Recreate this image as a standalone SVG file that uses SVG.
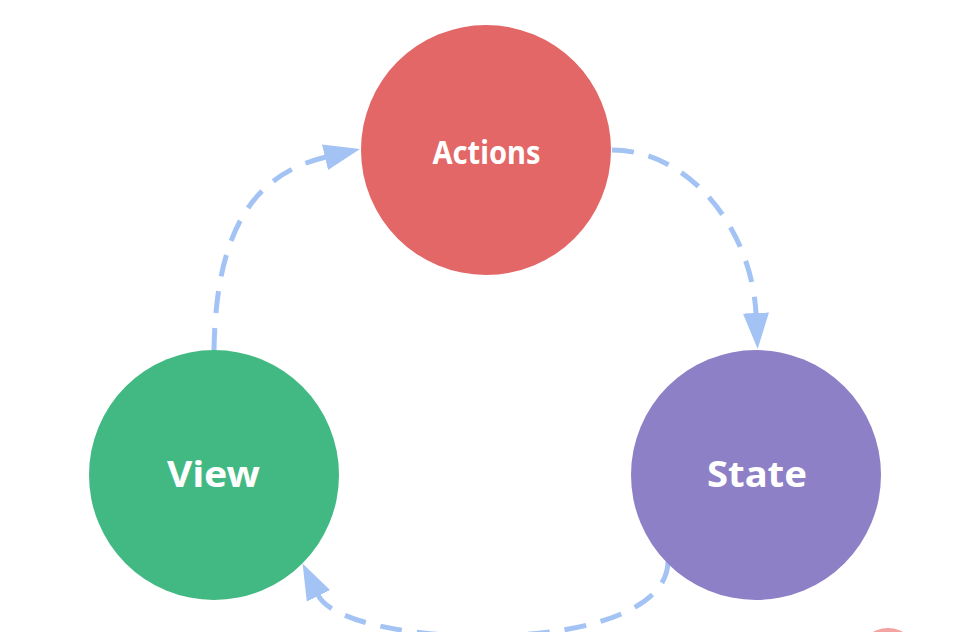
<svg xmlns="http://www.w3.org/2000/svg" width="966" height="632" viewBox="0 0 966 632">
<style>
.label{font-family:"Noto Sans","Open Sans",sans-serif;font-weight:700;fill:#ffffff;text-anchor:middle}
.flow{fill:none;stroke:#a4c3f5;stroke-width:5;stroke-dasharray:22 15}
</style>
<defs>
<marker id="arrow" markerUnits="userSpaceOnUse" markerWidth="36" markerHeight="26" viewBox="0 0 36 26" refX="1" refY="13" orient="auto">
<path d="M0,0 L36,13 L0,26 z" fill="#a4c3f5"/>
</marker>
</defs>
<rect width="966" height="632" fill="#ffffff"/>
<g id="connectors">
<path class="flow" d="M 612 150 C 690 150, 752 230, 756 314" marker-end="url(#arrow)"/>
<path class="flow" d="M 668 562 C 665 660, 345 650, 318 595" marker-end="url(#arrow)"/>
<path class="flow" d="M 214 350 C 216 235, 250 175, 326 157" marker-end="url(#arrow)"/>
</g>
<g id="actions">
<circle cx="486" cy="150" r="125" fill="#e36767"/>
<text class="label" x="486.5" y="163.5" font-size="32.5" textLength="108" lengthAdjust="spacingAndGlyphs">Actions</text>
</g>
<g id="view">
<circle cx="214" cy="475" r="125" fill="#42b983"/>
<text class="label" x="213.5" y="487" font-size="35" textLength="93" lengthAdjust="spacingAndGlyphs">View</text>
</g>
<g id="state">
<circle cx="756" cy="475" r="125" fill="#8e80c6"/>
<text class="label" x="757" y="487" font-size="36" textLength="100" lengthAdjust="spacingAndGlyphs">State</text>
</g>
<g id="partial">
<circle cx="888" cy="658" r="30" fill="#f4a3a3"/>
</g>
</svg>
